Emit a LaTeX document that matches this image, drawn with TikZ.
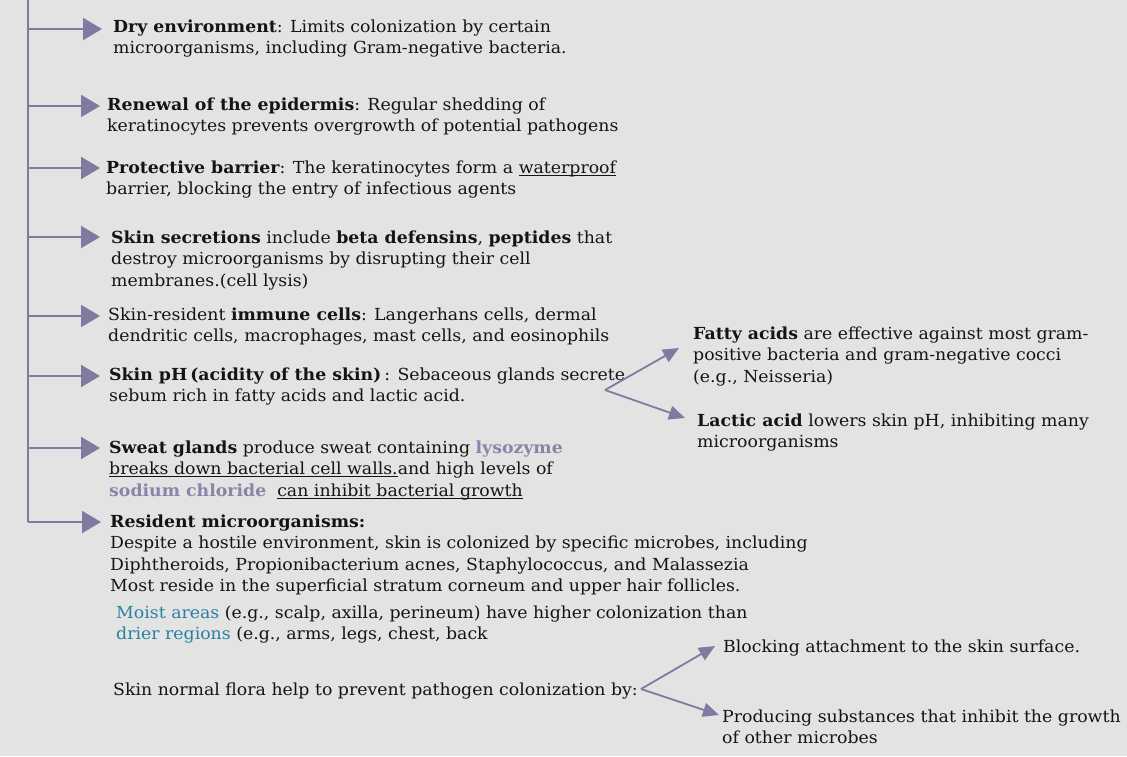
\documentclass[tikz,border=0pt]{standalone}
\usepackage{fontspec}
\setmainfont{DejaVu Serif}
\usepackage{graphicx}
\usetikzlibrary{arrows.meta}
\definecolor{bg}{HTML}{E3E3E3}
\definecolor{arrowc}{HTML}{7F7BA0}
\definecolor{pur}{HTML}{8984A8}
\definecolor{tealc}{HTML}{2B80A0}
\definecolor{ink}{HTML}{141414}
\newlength\natsum
\newlength\tmpl
\newcommand\addnat[1]{\settowidth{\tmpl}{#1}\global\advance\natsum\tmpl\relax}
\newsavebox\ulbox
\newcommand\myul[1]{\sbox\ulbox{#1}\rlap{\rule[-2.4pt]{\wd\ulbox}{0.9pt}}\usebox\ulbox}
\newcommand\blk[1]{\scalebox{\hf}[1]{\begin{tabular}[t]{@{}l@{}}#1\end{tabular}}}
\tikzset{
  txt/.style={anchor=base west, inner sep=0pt, text=ink, font=\fontsize{16.6}{21.5}\selectfont},
  mainarr/.style={draw=arrowc, line width=2pt, -{Triangle[length=19pt,width=22pt]}},
  trunk/.style={draw=arrowc, line width=2pt},
  forkarr/.style={draw=arrowc, line width=1.8pt, -{Triangle[length=16pt,width=14pt]}}
}
\begin{document}
{\fontsize{16.6}{21.5}\selectfont
\global\natsum=0pt
\addnat{microorganisms, including Gram-negative bacteria.}%
\addnat{keratinocytes prevents overgrowth of potential pathogens}%
\addnat{Despite a hostile environment, skin is colonized by specific microbes, including}%
\addnat{Skin normal flora help to prevent pathogen colonization by:}%
\addnat{Blocking attachment to the skin surface.}%
\addnat{Producing substances that inhibit the growth}%
}%
\pgfmathsetmacro\hf{2942/\natsum}%
\begin{tikzpicture}[x=1pt,y=-1pt]
\useasboundingbox[fill=bg] (0,0) rectangle (1127,756);

% text blocks
\node[txt] (b1) at (113,32) {\blk{\textbf{Dry environment}: Limits colonization by certain\\ microorganisms, including Gram-negative bacteria.}};
\node[txt] (b2) at (107,110) {\blk{\textbf{Renewal of the epidermis}: Regular shedding of\\ keratinocytes prevents overgrowth of potential pathogens}};
\node[txt] (b3) at (106,173) {\blk{\textbf{Protective barrier}: The keratinocytes form a \myul{waterproof}\\ barrier, blocking the entry of infectious agents}};
\node[txt] (b4) at (111,243) {\blk{\textbf{Skin secretions} include \textbf{beta defensins}, \textbf{peptides} that\\ destroy microorganisms by disrupting their cell\\ membranes.(cell lysis)}};
\node[txt] (b5) at (108,320) {\blk{Skin-resident \textbf{immune cells}: Langerhans cells, dermal\\ dendritic cells, macrophages, mast cells, and eosinophils}};
\node[txt] (b6) at (109,380) {\blk{\textbf{Skin pH\,(acidity of the skin)}\,: Sebaceous glands secrete\\ sebum rich in fatty acids and lactic acid.}};
\node[txt] (b7) at (109,453) {\blk{\textbf{Sweat glands} produce sweat containing \textcolor{pur}{\textbf{lysozyme}}\\ \myul{breaks down bacterial cell walls.}and high levels of\\ \textcolor{pur}{\textbf{sodium chloride}}\ \ \myul{can inhibit bacterial growth}}};
\node[txt] (b8) at (110,527) {\blk{\textbf{Resident microorganisms:}\\ Despite a hostile environment, skin is colonized by specific microbes, including\\ Diphtheroids, Propionibacterium acnes, Staphylococcus, and Malassezia\\ Most reside in the superficial stratum corneum and upper hair follicles.}};
\node[txt] (b9) at (116,618) {\blk{\textcolor{tealc}{Moist areas} (e.g., scalp, axilla, perineum) have higher colonization than\\ \textcolor{tealc}{drier regions} (e.g., arms, legs, chest, back}};
\node[txt] (b10) at (113,695) {\blk{Skin normal flora help to prevent pathogen colonization by:}};
\node[txt] (f1) at (693,339) {\blk{\textbf{Fatty acids} are effective against most gram-\\ positive bacteria and gram-negative cocci\\ (e.g., Neisseria)}};
\node[txt] (f2) at (697,426) {\blk{\textbf{Lactic acid} lowers skin pH, inhibiting many\\ microorganisms}};
\node[txt] (p1) at (723,652) {\blk{Blocking attachment to the skin surface.}};
\node[txt] (p2) at (722,722) {\blk{Producing substances that inhibit the growth\\ of other microbes}};

% trunk and branch points
\coordinate (top) at (28,0);
\coordinate (t1) at (28,29);   \coordinate (e1) at (102,29);
\coordinate (t2) at (28,106);  \coordinate (e2) at (100,106);
\coordinate (t3) at (28,168);  \coordinate (e3) at (100,168);
\coordinate (t4) at (28,237);  \coordinate (e4) at (100,237);
\coordinate (t5) at (28,316);  \coordinate (e5) at (100,316);
\coordinate (t6) at (28,376);  \coordinate (e6) at (100,376);
\coordinate (t7) at (28,448);  \coordinate (e7) at (100,448);
\coordinate (t8) at (28,522);  \coordinate (e8) at (101,522);

\draw[trunk] (top) -- (t8);
\draw[mainarr] (t1) -- (e1);
\draw[mainarr] (t2) -- (e2);
\draw[mainarr] (t3) -- (e3);
\draw[mainarr] (t4) -- (e4);
\draw[mainarr] (t5) -- (e5);
\draw[mainarr] (t6) -- (e6);
\draw[mainarr] (t7) -- (e7);
\draw[mainarr] (t8) -- (e8);

% forks
\coordinate (v1) at (605,390);
\coordinate (v1a) at (679,348);
\coordinate (v1b) at (685,418);
\draw[forkarr] (v1) -- (v1a);
\draw[forkarr] (v1) -- (v1b);
\coordinate (v2) at (641,689);
\coordinate (v2a) at (715,646);
\coordinate (v2b) at (719,715);
\draw[forkarr] (v2) -- (v2a);
\draw[forkarr] (v2) -- (v2b);
\end{tikzpicture}
\end{document}
